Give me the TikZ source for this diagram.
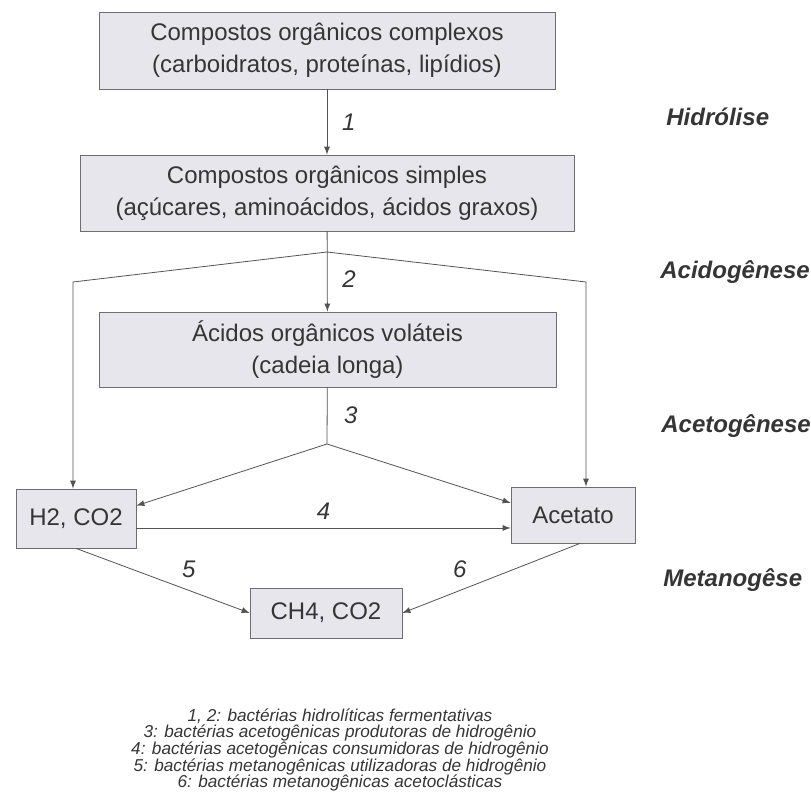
\documentclass[tikz,border=0pt]{standalone}
\usepackage{fontspec}
\setmainfont{Liberation Sans}
\usetikzlibrary{positioning}
\definecolor{boxfill}{HTML}{E7E6EC}
\definecolor{boxline}{HTML}{6E6E6E}
\definecolor{ink}{HTML}{353535}
\newcommand\keyfont{\fontsize{8.6}{8.3}\selectfont\itshape\lineskiplimit-10pt\relax}

\begin{document}
\begin{tikzpicture}[x=0.5pt,y=-0.5pt,
                    every node/.style = {align=center, text=ink,
                    font=\fontsize{12}{16}\selectfont},
                    box/.style = {shape=rectangle, draw=boxline, fill=boxfill,
                    inner sep=0pt},
                    link/.style = {draw=ink!85, -latex},
                    num/.style = {font=\fontsize{12}{14}\selectfont\itshape},
                    phase/.style = {anchor=west, inner sep=0pt,
                    font=\fontsize{12}{14}\selectfont\bfseries\itshape}]
  \useasboundingbox (0,0) rectangle (811,806);
  % boxes
  \node[box, minimum width=228pt, minimum height=38.5pt] (comp) at (327,50.5)
    {Compostos orgânicos complexos\\(carboidratos, proteínas, lipídios)};
  \node[box, minimum width=247pt, minimum height=38pt] (simp) at (327,193)
    {Compostos orgânicos simples\\(açúcares, aminoácidos, ácidos graxos)};
  \node[box, minimum width=228.5pt, minimum height=37.5pt] (acid) at (327.5,349.5)
    {Ácidos orgânicos voláteis\\(cadeia longa)};
  \node[box, minimum width=60pt, minimum height=29.5pt] (h2) at (76,518.5) {H2, CO2};
  \node[box, minimum width=62pt, minimum height=28pt] (acet) at (573,515) {Acetato};
  \node[box, minimum width=76pt, minimum height=25pt] (ch4) at (326,613) {CH4, CO2};
  \coordinate (fork) at (327,252);
  \coordinate (lcorner) at (73,282);
  \coordinate (rcorner) at (586,282);
  \coordinate (meet) at (327,444);
  % arrows
  \draw[link] (comp) -- node[num, right=4pt] {1} (simp);
  \draw[link] (simp) -- node[num, right=4pt, pos=0.6] {2} (acid);
  \draw[link] (fork) -- (lcorner) -- (lcorner |- h2.north);
  \draw[link] (fork) -- (rcorner) -- (rcorner |- acet.north);
  \draw[draw=ink!85] (acid) -- node[num, right=5pt] {3} (meet);
  \draw[link] (meet) -- (h2.12);
  \draw[link] (meet) -- (acet.169);
  \draw[link] ([yshift=-4.75pt]h2.east) -- node[num, above=0.5pt] {4}
    ([yshift=-4.75pt]h2.east -| acet.west);
  \draw[link] (h2.south) -- node[num, above right, pos=0.57] {5} (ch4.west);
  \draw[link] ([xshift=3.5pt]acet.south) -- node[num, above left, pos=0.6] {6} (ch4.east);
  % phases
  \node[phase] (hidr) at (666,117) {Hidrólise};
  \node[phase] (acido) at (660,272) {Acidogênese};
  \node[phase] (aceto) at (661,426) {Acetogênese};
  \node[phase] (metano) at (663,580) {Metanogêse};
  % legend
  \node[font=\keyfont] (key) at (340,750)
    {1, 2: bactérias hidrolíticas fermentativas\\
     3: bactérias acetogênicas produtoras de hidrogênio\\
     4: bactérias acetogênicas consumidoras de hidrogênio\\
     5: bactérias metanogênicas utilizadoras de hidrogênio\\
     6: bactérias metanogênicas acetoclásticas};
\end{tikzpicture}
\end{document}
